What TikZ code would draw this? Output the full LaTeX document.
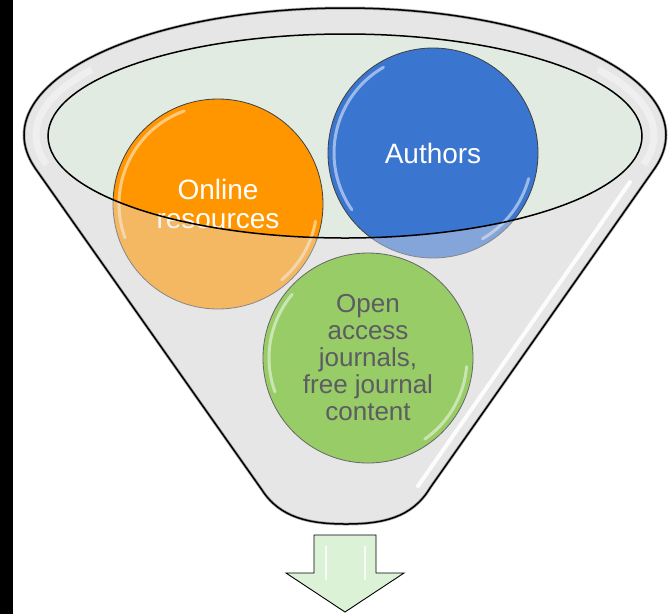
\documentclass[tikz,border=0pt]{standalone}
\usepackage{fontspec}
\setmainfont{Liberation Sans}
\usetikzlibrary{calc}
\definecolor{funnel}{RGB}{230,230,230}
\definecolor{mouth}{RGB}{225,235,225}
\definecolor{online}{RGB}{255,150,0}
\definecolor{authors}{RGB}{58,117,208}
\definecolor{openacc}{RGB}{152,204,102}
\definecolor{label}{RGB}{92,92,98}
\definecolor{outflow}{RGB}{220,242,214}

\tikzset{
  bubble/.style={circle, draw=black!75, line width=0.8pt, minimum size=210pt, inner sep=0pt,
    align=center, font=\fontsize{28}{29}\selectfont, text=white},
  gloss/.style={white, line width=3pt, opacity=0.5, line cap=round},
  rimline/.style={black, line width=1.5pt},
}

% outer contour of the funnel: rim on top, cone below
\newcommand\funnelpath{(262,490) -- (35,168)
  -- plot[smooth, domain=165:375, samples=71] ({345+321*cos(\x)},{135+127*sin(\x)})
  -- (430,488) .. controls (412,518) and (382,524) .. (346,524)
  .. controls (310,524) and (280,518) .. (262,490) -- cycle}

\begin{document}
\begin{tikzpicture}[x=1pt, y=-1pt]
\useasboundingbox (0,0) rectangle (668,614);
\fill[black] (0,0) rectangle (13,614);

% Funnel body and rim
\fill[funnel] \funnelpath;
\draw[white, line width=7pt, opacity=0.7] plot[smooth, domain=165:215] ({345+309*cos(\x)},{135+114*sin(\x)});
\draw[white, line width=7pt, opacity=0.7] plot[smooth, domain=325:375] ({345+309*cos(\x)},{135+114*sin(\x)});
\fill[mouth] (345,136) ellipse [x radius=297pt, y radius=102pt];

% Sources in the mouth
\node[bubble, fill=online] (online) at (218,204) {Online\\resources};
\node[bubble, fill=authors] (authors) at (433,153) {Authors};
\draw[gloss] ($(online.center)+(110:99pt)$) arc[start angle=110, end angle=200, radius=99pt];
\draw[gloss] ($(online.center)+(-10:99pt)$) arc[start angle=-10, end angle=-50, radius=99pt];
\draw[gloss] ($(authors.center)+(120:99pt)$) arc[start angle=120, end angle=215, radius=99pt];
\draw[gloss] ($(authors.center)+(-15:99pt)$) arc[start angle=-15, end angle=-60, radius=99pt];

% front of the cone over the lower parts
\fill[funnel, opacity=0.43, even odd rule] \funnelpath (345,136) ellipse [x radius=297pt, y radius=102pt];
\draw[white, line width=4pt, opacity=0.9, line cap=round] (630,182) -- (418,486);

\node[bubble, fill=openacc, draw=black!60, text=label, font=\fontsize{26}{27}\selectfont] (openaccess) at (368,358)
  {Open\\access\\journals,\\free journal\\content};
\draw[gloss] ($(openaccess.center)+(140:99pt)$) arc[start angle=140, end angle=200, radius=99pt];
\draw[gloss] ($(openaccess.center)+(-5:99pt)$) arc[start angle=-5, end angle=-55, radius=99pt];

% Outlines
\draw[black!50, line width=3pt, opacity=0.6] \funnelpath;
\draw[rimline] \funnelpath;
\draw[rimline] (345,136) ellipse [x radius=297pt, y radius=102pt];

% Output arrow
\draw[black, line width=0.9pt, fill=outflow] (314,535) -- (376,535) -- (376,573) -- (404,573)
  -- (345,612) -- (286,573) -- (314,573) -- cycle;
\draw[white, line width=2pt, opacity=0.8] (326,546) -- (326,580);
\draw[white, line width=2pt, opacity=0.8] (365,546) -- (365,580);
\end{tikzpicture}
\end{document}
